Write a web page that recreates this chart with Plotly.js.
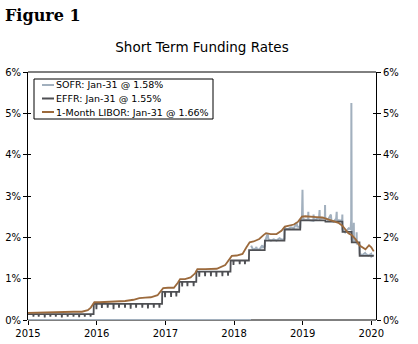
<!DOCTYPE html>
<html>
<head>
<meta charset="utf-8">
<script src="https://cdn.plot.ly/plotly-3.0.1.min.js"></script>
<style>html,body{margin:0;padding:0;background:#fff;}#chart{width:418px;height:344px;}</style>
</head>
<body>
<div id="chart"></div>
<script>
// ---- Data ----
const seriesNames = ['SOFR: Jan-31 @ 1.58%', 'EFFR: Jan-31 @ 1.55%', '1-Month LIBOR: Jan-31 @ 1.66%'];

// EFFR policy regimes: date the level took effect, level (%)
const effrChangeDates = ['2015-01-01','2015-12-17','2016-12-15','2017-03-16','2017-06-15','2017-12-14','2018-03-22','2018-06-14','2018-09-27','2018-12-20','2019-05-02','2019-08-01','2019-09-19','2019-10-31'];
const effrLevels      = [0.14, 0.39, 0.68, 0.92, 1.17, 1.44, 1.69, 1.92, 2.19, 2.41, 2.38, 2.13, 1.88, 1.55];
// EFFR month-end dips
const effrDipDates = ['2015-01-30','2015-02-27','2015-03-31','2015-04-30','2015-05-29','2015-06-30','2015-07-31','2015-08-31','2015-09-30','2015-10-30','2015-11-30','2015-12-31',
  '2016-01-29','2016-02-29','2016-03-31','2016-04-29','2016-05-31','2016-06-30','2016-07-29','2016-08-31','2016-09-30','2016-10-31','2016-11-30','2016-12-30',
  '2017-01-31','2017-02-28','2017-03-31','2017-04-28','2017-05-31','2017-06-30','2017-07-31','2017-08-31','2017-09-29','2017-10-31','2017-11-30','2017-12-29',
  '2018-01-31','2018-02-28'];
const effrDipValues = [0.08,0.08,0.06,0.08,0.08,0.06,0.08,0.08,0.07,0.08,0.08,0.26,
  0.29,0.30,0.26,0.30,0.30,0.27,0.30,0.30,0.28,0.30,0.30,0.55,
  0.56,0.57,0.81,0.82,0.82,1.05,1.06,1.06,1.05,1.06,1.07,1.33,
  1.35,1.35];
const effrEndDate = '2020-01-14';

// 1-Month LIBOR
const liborDates = ['2015-01-01','2015-03-01','2015-06-01','2015-09-01','2015-10-15','2015-11-15','2015-12-01','2015-12-10','2015-12-20',
  '2016-01-15','2016-03-01','2016-04-15','2016-06-01','2016-07-15','2016-08-15','2016-09-15','2016-10-15','2016-11-20','2016-12-10','2016-12-20',
  '2017-01-15','2017-02-15','2017-03-08','2017-03-20','2017-04-15','2017-05-15','2017-06-08','2017-06-20','2017-08-01','2017-10-01','2017-11-15','2017-12-08','2017-12-20',
  '2018-01-15','2018-02-15','2018-03-08','2018-03-25','2018-04-15','2018-05-15','2018-06-08','2018-06-20','2018-07-15','2018-08-15','2018-09-10','2018-09-28','2018-10-15','2018-11-15','2018-12-08','2018-12-28',
  '2019-01-15','2019-02-15','2019-03-15','2019-04-15','2019-05-15','2019-06-15','2019-07-10','2019-07-31','2019-08-15','2019-09-01','2019-09-20','2019-10-10','2019-10-31','2019-11-15','2019-12-01','2019-12-20',
  '2020-01-01','2020-01-14'];
const liborValues = [0.17,0.18,0.19,0.20,0.20,0.24,0.30,0.37,0.43,
  0.43,0.44,0.44,0.46,0.49,0.53,0.54,0.55,0.60,0.71,0.77,
  0.78,0.78,0.90,0.99,0.99,1.03,1.13,1.23,1.23,1.24,1.33,1.46,1.55,
  1.56,1.60,1.76,1.88,1.90,1.96,2.06,2.10,2.08,2.08,2.16,2.26,2.28,2.31,2.38,2.50,
  2.51,2.49,2.49,2.48,2.44,2.40,2.35,2.28,2.20,2.10,2.05,1.95,1.80,1.76,1.71,1.81,
  1.76,1.66];

// SOFR (zero before publication began; gap marked with null)
const sofrDates = ['2015-01-01','2018-04-01','2018-04-01T12:00',
  '2018-04-02','2018-04-12','2018-04-27','2018-04-30','2018-05-01','2018-05-15','2018-05-31','2018-06-01','2018-06-13','2018-06-15','2018-06-29','2018-07-02','2018-07-16','2018-07-31','2018-08-15','2018-08-31','2018-09-14','2018-09-26','2018-09-27','2018-09-28','2018-10-01','2018-10-15','2018-10-31','2018-11-15','2018-11-30','2018-12-03','2018-12-19','2018-12-20','2018-12-28','2018-12-31',
  '2019-01-02','2019-01-15','2019-01-30','2019-01-31','2019-02-01','2019-02-27','2019-02-28','2019-03-01','2019-03-15','2019-03-29','2019-04-01','2019-04-02','2019-04-29','2019-04-30','2019-05-01','2019-05-15','2019-05-31','2019-06-03','2019-06-14','2019-06-28','2019-07-01','2019-07-02','2019-07-30','2019-07-31','2019-08-01','2019-08-15','2019-08-30','2019-09-03','2019-09-13','2019-09-16','2019-09-17','2019-09-18','2019-09-19','2019-09-27','2019-09-30','2019-10-01','2019-10-14','2019-10-15','2019-10-16','2019-10-30','2019-11-01','2019-11-15','2019-11-29','2019-12-02','2019-12-16','2019-12-31',
  '2020-01-02','2020-01-14'];
const sofrValues = [0,0,null,
  1.80,1.70,1.73,1.77,1.72,1.70,1.81,1.76,1.78,1.90,2.10,1.96,1.92,1.95,1.92,1.98,1.94,1.97,2.20,2.25,2.21,2.20,2.24,2.22,2.35,2.26,2.25,2.42,2.46,3.15,
  2.45,2.42,2.43,2.62,2.42,2.40,2.55,2.43,2.44,2.48,2.66,2.45,2.48,2.78,2.47,2.42,2.55,2.40,2.38,2.45,2.62,2.42,2.40,2.55,2.20,2.12,2.20,2.22,2.20,2.43,5.25,2.55,1.95,1.90,2.35,1.95,1.88,2.12,1.85,1.82,1.60,1.57,1.62,1.60,1.56,1.60,
  1.54,1.58];

const yTickVals = [0,1,2,3,4,5,6];
const yTickText = ['0%','1%','2%','3%','4%','5%','6%'];

// ---- Build EFFR step line from regimes and month-end dips ----
function toDate(s){ return new Date(s + 'T00:00:00Z'); }
function fmt(d){ return d.toISOString().slice(0,10); }
function addDays(s, n){ const d = toDate(s); d.setUTCDate(d.getUTCDate()+n); return fmt(d); }
function levelAt(s){
  let v = effrLevels[0];
  for (let i=0;i<effrChangeDates.length;i++){ if (effrChangeDates[i] <= s) v = effrLevels[i]; }
  return v;
}
const ev = [];
ev.push([effrChangeDates[0], effrLevels[0]]);
for (let i=1;i<effrChangeDates.length;i++){
  ev.push([addDays(effrChangeDates[i],-1), effrLevels[i-1]]);
  ev.push([effrChangeDates[i], effrLevels[i]]);
}
for (let i=0;i<effrDipDates.length;i++){
  const d = effrDipDates[i];
  ev.push([addDays(d,-1), levelAt(addDays(d,-1))]);
  ev.push([d, effrDipValues[i]]);
  ev.push([addDays(d,1), levelAt(addDays(d,1))]);
}
ev.push([effrEndDate, levelAt(effrEndDate)]);
ev.sort((a,b)=> a[0] < b[0] ? -1 : a[0] > b[0] ? 1 : 0);
const effrX = ev.map(e=>e[0]), effrY = ev.map(e=>e[1]);

// ---- Colours ----
const cSofr = '#a2b0be', cEffr = '#4e4f53', cLibor = '#9c6a3c';

const dummy = ax => ({x: [liborDates[0]], y: [0], type:'scatter', mode:'lines', yaxis:ax, showlegend:false, hoverinfo:'skip', line:{width:0}});

const traces = [
  {x: sofrDates, y: sofrValues, type:'scatter', mode:'lines', name: seriesNames[0], connectgaps:false, cliponaxis:false,
   line:{color:cSofr, width:2}, showlegend:false, hoverinfo:'skip'},
  {x: effrX, y: effrY, type:'scatter', mode:'lines', name: seriesNames[1],
   line:{color:cEffr, width:1.8}, showlegend:false, hoverinfo:'skip'},
  {x: liborDates, y: liborValues, type:'scatter', mode:'lines', name: seriesNames[2],
   line:{color:cLibor, width:1.8}, showlegend:false, hoverinfo:'skip'},
  dummy('y2'), dummy('y3'), dummy('y4')
];

// pixel -> paper helpers (plot area: left 28, right 376, top 72, bottom 320)
const L=28, R=376, T=72, B=320;
const xp = px => (px-L)/(R-L);
const yp = py => (B-py)/(B-T);

const font = {family:'DejaVu Sans, Verdana, sans-serif', size:10, color:'#000'};
const legendRows = [85, 98.5, 112];
const legendColors = [cSofr, cEffr, cLibor];

const shapes = [
  // top and bottom border of the plot frame (beneath the data)
  {type:'line', xref:'paper', yref:'paper', x0:0, x1:1, y0:1, y1:1, line:{color:'#000', width:1}, layer:'below'},
  {type:'line', xref:'paper', yref:'paper', x0:0, x1:1, y0:0, y1:0, line:{color:'#000', width:1}, layer:'below'},
  {type:'rect', xref:'paper', yref:'paper', x0:xp(34), x1:xp(213), y0:yp(119), y1:yp(79),
   line:{color:'#000', width:1}, fillcolor:'#fff'}
];
const annotations = [
  {xref:'paper', yref:'paper', x:xp(3), y:yp(15), xanchor:'left', yanchor:'middle', showarrow:false,
   text:'<b>Figure 1</b>', font:{family:'DejaVu Serif, Georgia, serif', size:16, color:'#000'}}
];
legendRows.forEach((py,i)=>{
  shapes.push({type:'line', xref:'paper', yref:'paper', x0:xp(42), x1:xp(54), y0:yp(py), y1:yp(py),
    line:{color:legendColors[i], width:2}});
  annotations.push({xref:'paper', yref:'paper', x:xp(53.5), y:yp(py), xanchor:'left', yanchor:'middle', showarrow:false,
    text: seriesNames[i], font:{family:'DejaVu Sans, Verdana, sans-serif', size:9.5, color:'#000'}});
});

const yAxisCommon = {range:[0,6], tickvals:yTickVals, ticktext:yTickText, showgrid:false, zeroline:false,
  showline:true, linecolor:'#000', linewidth:1, ticks:'outside', ticklen:4, tickcolor:'#000', tickwidth:1,
  tickfont:font, fixedrange:true};
const yInner = {range:[0,6], tickvals:yTickVals, showticklabels:false, showgrid:false, zeroline:false,
  showline:false, ticks:'inside', ticklen:3, tickcolor:'#000', tickwidth:1, overlaying:'y', fixedrange:true};

const layout = {
  width:418, height:344,
  margin:{l:L, r:418-R, t:T, b:344-B, pad:0},
  paper_bgcolor:'#fff', plot_bgcolor:'#fff',
  font: font,
  title:{text:'Short Term Funding Rates', x:0.5, xref:'paper', xanchor:'center', y:1-47/344, yref:'container', yanchor:'middle',
    font:{family:'DejaVu Sans, Verdana, sans-serif', size:13.5, color:'#000'}},
  xaxis:{type:'date', range:['2015-01-01','2020-01-26'], tick0:'2015-01-01', dtick:'M12', tickformat:'%Y',
    showgrid:false, zeroline:false, showline:false,
    ticks:'outside', ticklen:4, tickcolor:'#000', tickwidth:1, tickfont:font, fixedrange:true},
  yaxis: Object.assign({}, yAxisCommon, {side:'left'}),
  yaxis2: Object.assign({}, yAxisCommon, {side:'right', overlaying:'y'}),
  yaxis3: Object.assign({}, yInner, {side:'left'}),
  yaxis4: Object.assign({}, yInner, {side:'right'}),
  shapes: shapes,
  annotations: annotations,
  showlegend:false
};

Plotly.newPlot('chart', traces, layout, {staticPlot:true, displayModeBar:false});
</script>
</body>
</html>
